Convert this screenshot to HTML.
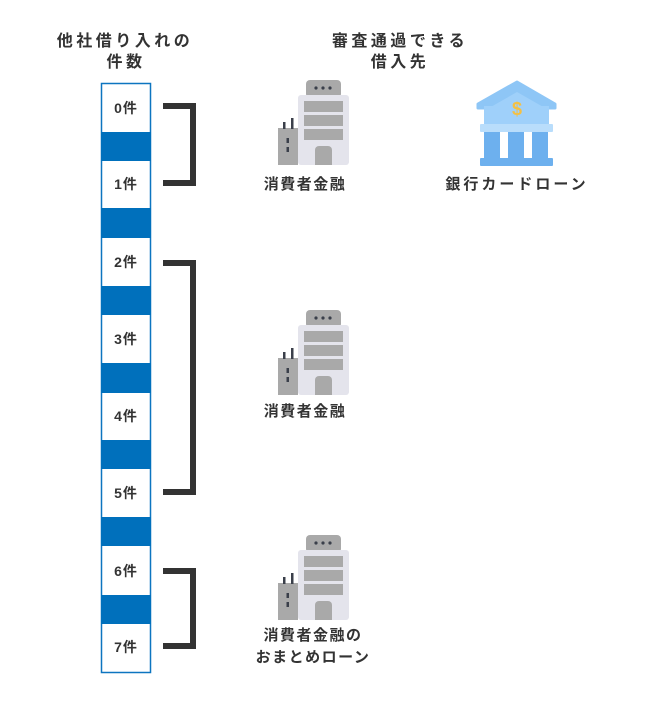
<!DOCTYPE html>
<html><head><meta charset="utf-8"><style>
html,body{margin:0;padding:0;background:#fff;}
svg text{font-family:"Liberation Sans","Noto Sans CJK JP",sans-serif;fill:#333;}
</style></head><body>
<svg width="650" height="702" viewBox="0 0 650 702" xmlns="http://www.w3.org/2000/svg">
<defs>
<g id="bld">
  <rect x="28" y="0" width="35" height="18" rx="4" fill="#a9a9a9"/>
  <circle cx="38" cy="8" r="1.6" fill="#3a3f4a"/><circle cx="45" cy="8" r="1.6" fill="#3a3f4a"/><circle cx="52" cy="8" r="1.6" fill="#3a3f4a"/>
  <rect x="20" y="15" width="51" height="70" rx="3" fill="#e4e4ec"/>
  <rect x="26" y="21" width="39" height="11" fill="#a9a9a9"/>
  <rect x="26" y="35" width="39" height="11" fill="#a9a9a9"/>
  <rect x="26" y="49" width="39" height="11" fill="#a9a9a9"/>
  <path d="M37 85 V70 a4 4 0 0 1 4 -4 h9 a4 4 0 0 1 4 4 V85 Z" fill="#a9a9a9"/>
  <rect x="0" y="48" width="20" height="37" fill="#a9a9a9"/>
  <rect x="5" y="42" width="2.5" height="7" fill="#3a3f4a"/>
  <rect x="13" y="38" width="2.5" height="11" fill="#3a3f4a"/>
  <rect x="8.5" y="58" width="2.5" height="5" fill="#3a3f4a"/>
  <rect x="8.5" y="67" width="2.5" height="5" fill="#3a3f4a"/>
</g>
</defs>
<text x="125" y="46" font-size="16" font-weight="bold" text-anchor="middle" letter-spacing="3.5">他社借り入れの</text>
<text x="126" y="67" font-size="16" font-weight="bold" text-anchor="middle" letter-spacing="3.5">件数</text>
<text x="400" y="46" font-size="16" font-weight="bold" text-anchor="middle" letter-spacing="3.5">審査通過できる</text>
<text x="400" y="67" font-size="16" font-weight="bold" text-anchor="middle" letter-spacing="3.5">借入先</text>

<rect x="101.5" y="83.5" width="49" height="589" fill="#fff" stroke="#0d75c0" stroke-width="1.5"/>
<rect x="101" y="132" width="50" height="29" fill="#0070bc"/>
<rect x="101" y="208" width="50" height="30" fill="#0070bc"/>
<rect x="101" y="286" width="50" height="29" fill="#0070bc"/>
<rect x="101" y="363" width="50" height="30" fill="#0070bc"/>
<rect x="101" y="440" width="50" height="29" fill="#0070bc"/>
<rect x="101" y="517" width="50" height="29" fill="#0070bc"/>
<rect x="101" y="595" width="50" height="29" fill="#0070bc"/>
<g font-size="14" font-weight="bold" text-anchor="middle" letter-spacing="1">
<text x="126" y="113">0件</text>
<text x="126" y="189">1件</text>
<text x="126" y="267">2件</text>
<text x="126" y="344">3件</text>
<text x="126" y="421">4件</text>
<text x="126" y="498">5件</text>
<text x="126" y="576">6件</text>
<text x="126" y="652">7件</text>
</g>
<g fill="none" stroke="#333" stroke-width="6">
<path d="M163 106 H193 V183 H163"/>
<path d="M163 263 H193 V492 H163"/>
<path d="M163 571 H193 V646 H163"/>
</g>

<use href="#bld" x="278" y="80"/>
<use href="#bld" x="278" y="310"/>
<use href="#bld" x="278" y="535"/>
<g font-size="15" font-weight="bold" text-anchor="middle" letter-spacing="1.5">
<text x="305" y="189">消費者金融</text>
<text x="305" y="416">消費者金融</text>
<text x="313" y="640">消費者金融の</text>
<text x="313" y="662">おまとめローン</text>
<text x="517" y="189" letter-spacing="3">銀行カードローン</text>
</g>

<g>
<path d="M517 82 L555 104 L555 108 L478 108 L478 104 Z" fill="#8ec6f6" stroke="#8ec6f6" stroke-linejoin="round" stroke-width="3"/>
<path d="M517 92 L545 108 L489 108 Z" fill="#9fd0fa"/>
<rect x="484" y="106" width="65" height="20" fill="#9fd0fa"/>
<text x="517" y="115" font-size="18" font-weight="bold" text-anchor="middle" style="fill:#f5c042">$</text>
<rect x="480" y="124" width="73" height="8" rx="1" fill="#b9ddfb"/>
<rect x="484" y="132" width="16" height="27" fill="#6db0ee"/>
<rect x="508" y="132" width="16" height="27" fill="#6db0ee"/>
<rect x="532" y="132" width="16" height="27" fill="#6db0ee"/>
<rect x="480" y="158" width="73" height="8" rx="1" fill="#6db0ee"/>
</g>
</svg>
</body></html>
